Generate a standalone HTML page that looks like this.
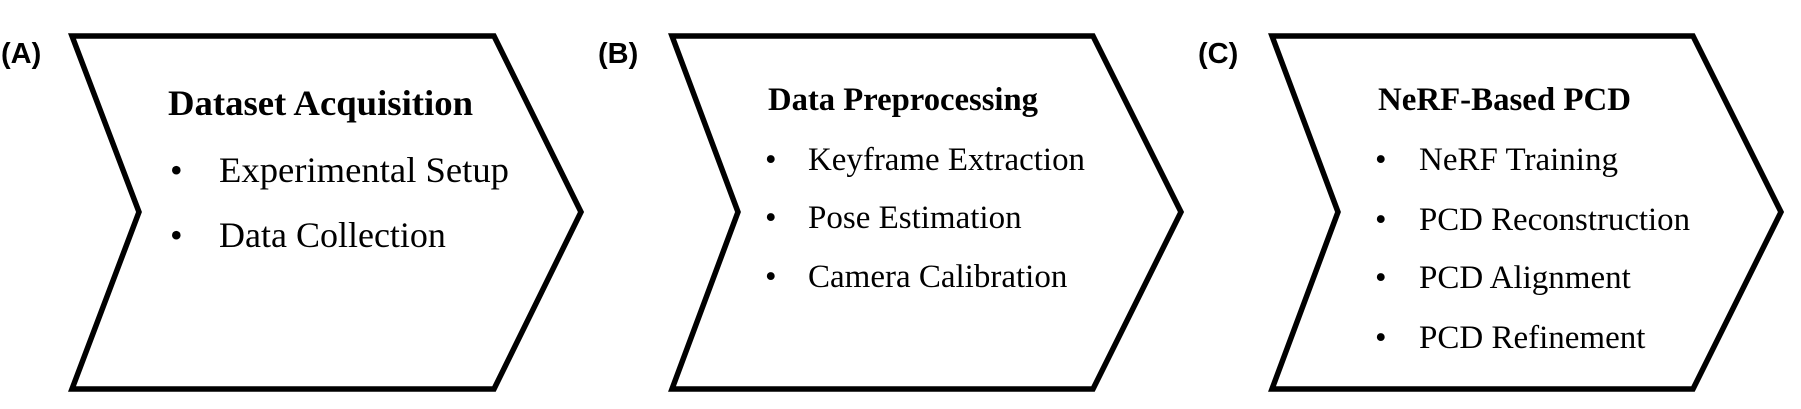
<!DOCTYPE html>
<html><head><meta charset="utf-8"><style>
html,body{margin:0;padding:0;background:#fff;}
svg{display:block;}
.lab{font-family:"Liberation Sans",sans-serif;font-weight:bold;font-size:29px;}
.t{font-family:"Liberation Serif",serif;font-weight:bold;}
.i{font-family:"Liberation Serif",serif;}
</style></head><body>
<svg width="1801" height="409" viewBox="0 0 1801 409" xmlns="http://www.w3.org/2000/svg">
<g fill="#fff" stroke="#000" stroke-width="5.5" stroke-linejoin="miter">
<polygon points="72,36 494,36 581,212 494,389 72,389 139,212"/>
<polygon points="672,36 1093,36 1181,212 1093,389 672,389 738,212"/>
<polygon points="1272,36 1693,36 1781,212 1693,389 1272,389 1338,212"/>
</g>
<text class="lab" x="1" y="63">(A)</text>
<text class="lab" x="598" y="63">(B)</text>
<text class="lab" x="1198" y="63">(C)</text>

<text class="t" x="168" y="115" font-size="36" textLength="305" lengthAdjust="spacingAndGlyphs">Dataset Acquisition</text>
<g class="i" font-size="36">
<text x="170" y="182">•</text><text x="219" y="182" textLength="290" lengthAdjust="spacingAndGlyphs">Experimental Setup</text>
<text x="170" y="247">•</text><text x="219" y="247">Data Collection</text>
</g>

<text class="t" x="768" y="110" font-size="33" textLength="270" lengthAdjust="spacingAndGlyphs">Data Preprocessing</text>
<g class="i" font-size="33">
<text x="765" y="170">•</text><text x="808" y="170" textLength="277" lengthAdjust="spacingAndGlyphs">Keyframe Extraction</text>
<text x="765" y="228">•</text><text x="808" y="228">Pose Estimation</text>
<text x="765" y="287">•</text><text x="808" y="287">Camera Calibration</text>
</g>

<text class="t" x="1378" y="110" font-size="33" textLength="253" lengthAdjust="spacingAndGlyphs">NeRF-Based PCD</text>
<g class="i" font-size="33">
<text x="1375" y="170">•</text><text x="1419" y="170">NeRF Training</text>
<text x="1375" y="230">•</text><text x="1419" y="230" textLength="271" lengthAdjust="spacingAndGlyphs">PCD Reconstruction</text>
<text x="1375" y="288">•</text><text x="1419" y="288">PCD Alignment</text>
<text x="1375" y="348">•</text><text x="1419" y="348">PCD Refinement</text>
</g>
</svg>
</body></html>
